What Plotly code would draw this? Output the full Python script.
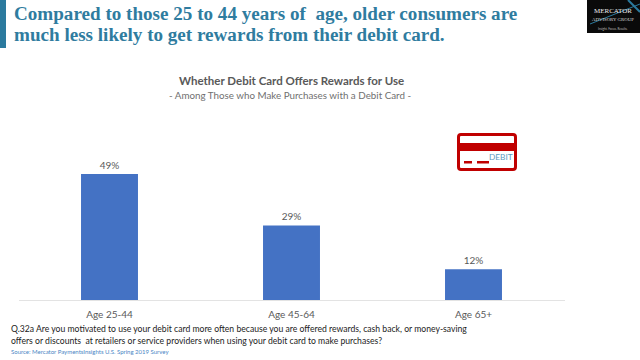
import plotly.graph_objects as go

categories = ["Age 25-44", "Age 45-64", "Age 65+"]
values = [49, 29, 12]
value_labels = ["49%", "29%", "12%"]

W, H = 640, 360
PX = lambda x: x / W
PY = lambda y: 1 - y / H

fig = go.Figure(go.Bar(
    x=categories, y=values, width=0.313, marker=dict(color="#4472C4", line=dict(width=0)),
    text=value_labels, textposition="outside", cliponaxis=False,
    textfont=dict(family="Lato, sans-serif", size=10, color="#595959"),
))


def rect(x0, y0, x1, y1, fill, line=None, lw=0):
    fig.add_shape(type="rect", xref="paper", yref="paper",
                  x0=PX(x0), x1=PX(x1), y0=PY(y0), y1=PY(y1),
                  fillcolor=fill, line=dict(color=line or fill, width=lw), layer="above")


def text(x, y, s, size, color, family="Lato, sans-serif", anchor="left"):
    fig.add_annotation(xref="paper", yref="paper", x=PX(x), y=PY(y), text=s, showarrow=False,
                       xanchor=anchor, yanchor="middle", align=anchor,
                       font=dict(size=size, color=color, family=family))


# headline band
rect(0, 0, 6, 48, "#2B7A9E")
TITLE = "#2F7C9F"
SERIF = "Liberation Serif, serif"
text(12, 14, "<b>Compared to those 25 to 44 years of  age, older consumers are</b>", 19.1, TITLE, SERIF)
text(12, 35, "<b>much less likely to get rewards from their debit card.</b>", 19.1, TITLE, SERIF)

# chart titles
text(291, 81, "<b>Whether Debit Card Offers Rewards for Use</b>", 11.5, "#595959", anchor="center")
text(290, 95, "- Among Those who Make Purchases with a Debit Card -", 9.8, "#707070", anchor="center")

# logo
rect(587, 0, 640, 33, "#0A0A0A")
fig.add_shape(type="line", xref="paper", yref="paper", x0=PX(628), x1=PX(640), y0=PY(0), y1=PY(12),
              line=dict(color="#2B7A9E", width=2))
fig.add_shape(type="line", xref="paper", yref="paper", x0=PX(590), x1=PX(640), y0=PY(24), y1=PY(4),
              line=dict(color="#2B7A9E", width=1))
text(613, 11, "MERCATOR", 7, "#EEEEEE", SERIF, "center")
text(613, 19, "ADVISORY GROUP", 4.8, "#DDDDDD", SERIF, "center")
text(613, 29, "Insight. Focus. Results.", 3, "#BBBBBB", anchor="center")

# debit card icon
CARD = "#C00000"
fig.add_shape(type="path", xref="paper", yref="paper", layer="above",
              path=" ".join([
                  f"M {PX(461)} {PY(134.5)}", f"L {PX(513)} {PY(134.5)}",
                  f"Q {PX(515.5)} {PY(134.5)} {PX(515.5)} {PY(137)}", f"L {PX(515.5)} {PY(167)}",
                  f"Q {PX(515.5)} {PY(169.5)} {PX(513)} {PY(169.5)}", f"L {PX(461)} {PY(169.5)}",
                  f"Q {PX(458.5)} {PY(169.5)} {PX(458.5)} {PY(167)}", f"L {PX(458.5)} {PY(137)}",
                  f"Q {PX(458.5)} {PY(134.5)} {PX(461)} {PY(134.5)} Z"]),
              fillcolor="white", line=dict(color=CARD, width=3))
rect(457, 143, 517, 151, CARD)
rect(464, 161, 472, 163.5, CARD)
rect(477, 161, 489, 163.5, CARD)
text(487, 157, "DEBIT", 8.3, "#5B9BBF", "Lato, sans-serif")

# question and source
text(9, 328, "Q.32a Are you motivated to use your debit card more often because you are offered rewards, cash back, or money-saving", 8.65, "#222222")
text(9, 340.5, "offers or discounts  at retailers or service providers when using your debit card to make purchases?", 8.65, "#222222")
text(9, 351.5, "Source: Mercator PaymentsInsights U.S. Spring 2019 Survey", 6, "#4A86C5")

fig.update_layout(
    width=W, height=H, autosize=False, showlegend=False,
    margin=dict(l=0, r=0, t=0, b=0), paper_bgcolor="white", plot_bgcolor="white",
    xaxis=dict(domain=[PX(18.5), PX(564.5)], showgrid=False, showline=True, linecolor="#E3E3E3",
               linewidth=1, ticks="", ticklabelstandoff=5,
               tickfont=dict(family="Lato, sans-serif", size=10, color="#595959")),
    yaxis=dict(domain=[PY(300), PY(110)], range=[0, 190 / 2.57], visible=False),
)
fig.write_html("out.html", post_script="document.body.style.margin='0';", config={"displayModeBar": False})
